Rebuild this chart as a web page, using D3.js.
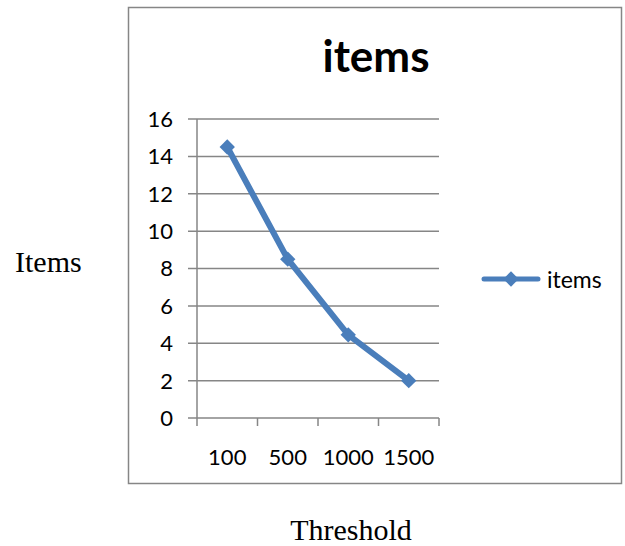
<!DOCTYPE html>
<html><head><meta charset="utf-8">
<script src="https://cdn.jsdelivr.net/npm/d3@7"></script>
<style>body{margin:0;background:#fff}</style>
</head><body>
<script>
const categories = ["100", "500", "1000", "1500"];
const values = [14.5, 8.5, 4.45, 2.0];
const yTicks = [0, 2, 4, 6, 8, 10, 12, 14, 16];
const seriesName = "items";
const titleText = "items";
const yTitle = "Items";
const xTitle = "Threshold";

const W = 625, H = 546;
const svg = d3.select("body").append("svg").attr("width", W).attr("height", H);
const blue = "#4a7ebb", grid = "#868686";

// outer box
svg.append("rect").attr("x", 128.5).attr("y", 7.5).attr("width", 493).attr("height", 476)
  .attr("fill", "none").attr("stroke", grid).attr("stroke-width", 1.5);

const x = d3.scaleBand().domain(categories).range([197, 439]);
const y = d3.scaleLinear().domain([0, 16]).range([418, 119]);

// gridlines
svg.append("g").selectAll("line").data(yTicks).join("line")
  .attr("x1", 188).attr("x2", 439).attr("y1", d => y(d)).attr("y2", d => y(d))
  .attr("stroke", grid).attr("stroke-width", 1.5);
// y axis line
svg.append("line").attr("x1", 197).attr("x2", 197).attr("y1", y(16)).attr("y2", 426)
  .attr("stroke", grid).attr("stroke-width", 1.5);
// x ticks at band boundaries
const bounds = categories.map(c => x(c)).concat([x(categories[categories.length-1]) + x.bandwidth()]);
svg.append("g").selectAll("line").data(bounds.slice(1)).join("line")
  .attr("x1", d => d).attr("x2", d => d).attr("y1", 418).attr("y2", 426)
  .attr("stroke", grid).attr("stroke-width", 1.5);

// y labels
svg.append("g").selectAll("text").data(yTicks).join("text")
  .attr("x", 173).attr("y", d => y(d)).attr("dy", "0.36em").attr("text-anchor", "end")
  .attr("font-family", "Lato").attr("font-size", 22).attr("fill", "#000").text(d => d);
// x labels
svg.append("g").selectAll("text").data(categories).join("text")
  .attr("x", d => x(d) + x.bandwidth()/2).attr("y", 465).attr("text-anchor", "middle")
  .attr("font-family", "Lato").attr("font-size", 22).attr("fill", "#000").text(d => d);

// line
const line = d3.line().x((d, i) => x(categories[i]) + x.bandwidth()/2).y(d => y(d));
svg.append("path").datum(values).attr("d", line).attr("fill", "none")
  .attr("stroke", blue).attr("stroke-width", 6).attr("stroke-linejoin", "round").attr("stroke-linecap", "round");
const diamond = d3.symbol().type(d3.symbolDiamond2).size(150);
svg.append("g").selectAll("path").data(values).join("path")
  .attr("transform", (d, i) => `translate(${x(categories[i]) + x.bandwidth()/2},${y(d)})`)
  .attr("d", diamond).attr("fill", blue);

// title
svg.append("text").attr("x", 376).attr("y", 72).attr("text-anchor", "middle")
  .attr("font-family", "Lato").attr("font-weight", "bold").attr("font-size", 44).text(titleText);

// legend
svg.append("line").attr("x1", 484).attr("x2", 538).attr("y1", 279).attr("y2", 279)
  .attr("stroke", blue).attr("stroke-width", 5).attr("stroke-linecap", "round");
svg.append("path").attr("transform", "translate(511,279)").attr("d", diamond).attr("fill", blue);
svg.append("text").attr("x", 547).attr("y", 288).attr("font-family", "Lato").attr("font-size", 23).text(seriesName);

// axis titles
svg.append("text").attr("x", 15).attr("y", 272).attr("font-family", "Liberation Serif")
  .attr("font-size", 30).text(yTitle);
svg.append("text").attr("x", 351).attr("y", 540).attr("text-anchor", "middle").attr("font-family", "Liberation Serif")
  .attr("font-size", 30).text(xTitle);
</script>
</body></html>
